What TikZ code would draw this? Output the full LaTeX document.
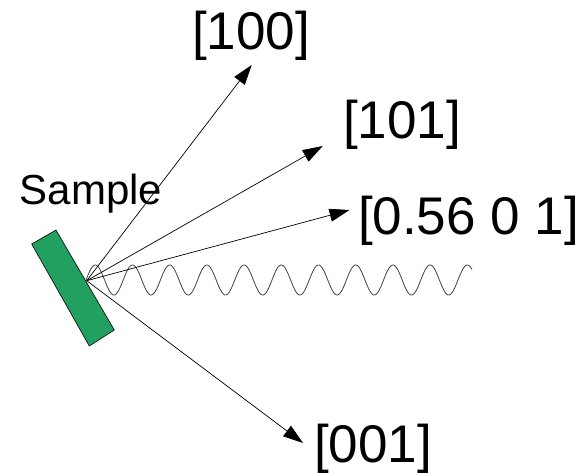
\documentclass[tikz,border=0pt]{standalone}
\usepackage{fontspec}
\setmainfont{Liberation Sans}
\usetikzlibrary{arrows.meta}
\definecolor{samplegreen}{RGB}{34,160,96}
\tikzset{
  ray/.style={line width=0.7pt, -{Triangle[length=20pt,width=13pt]}},
  lbl/.style={anchor=base, inner sep=0pt, font=\fontsize{53}{60}\selectfont},
  samplelbl/.style={anchor=base, inner sep=0pt, font=\fontsize{42}{48}\selectfont},
  wave/.style={line width=0.8pt, black!75},
}
\begin{document}
\begin{tikzpicture}[x=1pt,y=-1pt]
\useasboundingbox (0,0) rectangle (584,473);
% sample plate
\draw[fill=samplegreen, line width=0.6pt] (31.7,244) -- (56,230) -- (114.3,330) -- (89.3,346) -- cycle;
\coordinate (o) at (86.7,280.7);
% wave
\draw[wave] plot[domain=86:472, samples=500, smooth] (\x, {280 - 15*sin(9.6774*(\x-86))});
% labels
\node[samplelbl] (sample) at (91,205) {Sample};
\node[lbl] (l100) at (251,50) {[100]};
\node[lbl] (l101) at (402,139) {[101]};
\node[lbl] (l056) at (468.5,235) {[0.56 0 1]};
\node[lbl] (l001) at (373,462) {[001]};
% arrow tips
\coordinate (t100) at (251.7,65);
\coordinate (t101) at (322.7,146);
\coordinate (t056) at (349.5,210);
\coordinate (t001) at (303,443);
\draw[ray] (o) -- (t100);
\draw[ray] (o) -- (t101);
\draw[ray] (o) -- (t056);
\draw[ray] (o) -- (t001);
\end{tikzpicture}
\end{document}
